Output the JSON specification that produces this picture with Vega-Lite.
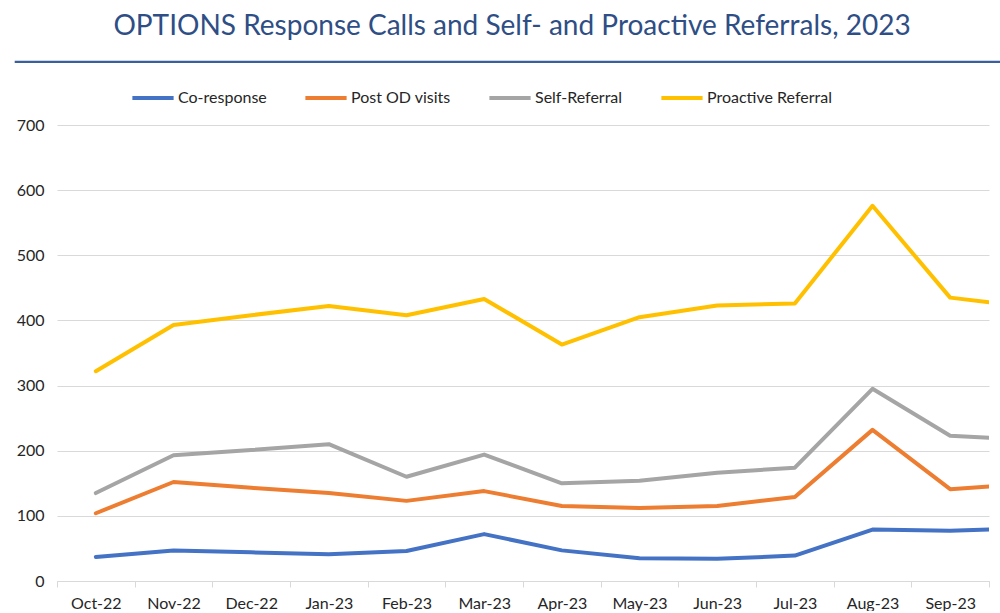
{
  "$schema": "https://vega.github.io/schema/vega-lite/v6.json",
  "autosize": {"type": "pad"},
  "padding": {"left": 14, "top": 11, "right": 0, "bottom": 0},
  "background": "white",
  "config": {
    "view": {"stroke": null},
    "font": "Lato",
    "axis": {"labelFont": "Lato", "labelFontSize": 16, "labelColor": "#262626"},
    "legend": {"labelFont": "Lato", "labelFontSize": 16, "labelColor": "#262626"}
  },
  "vconcat": [
    {
      "width": 986,
      "height": 1,
      "view": {"stroke": "#3B5E9C", "strokeWidth": 1.2, "fill": null},
      "title": {
        "text": "OPTIONS Response Calls and Self- and Proactive Referrals, 2023",
        "font": "Lato",
        "fontSize": 28,
        "fontWeight": "normal",
        "color": "#2E4E85",
        "anchor": "middle",
        "dx": 4,
        "offset": 15
      },
      "data": {"values": [{"t": ""}]},
      "mark": {"type": "text"},
      "encoding": {"text": {"field": "t"}}
    },
    {
      "spacing": 0,
      "hconcat": [
        {
          "width": 1,
          "height": 1,
          "data": {"values": [{"t": ""}]},
          "mark": {"type": "text"},
          "encoding": {"text": {"field": "t"}}
        },
        {
          "width": 932,
          "height": 456,
          "data": {
            "values": [
              {"series": "Co-response", "idx": 0, "value": 37},
              {"series": "Co-response", "idx": 1, "value": 47},
              {"series": "Co-response", "idx": 2, "value": 44},
              {"series": "Co-response", "idx": 3, "value": 41},
              {"series": "Co-response", "idx": 4, "value": 46},
              {"series": "Co-response", "idx": 5, "value": 72},
              {"series": "Co-response", "idx": 6, "value": 47},
              {"series": "Co-response", "idx": 7, "value": 35},
              {"series": "Co-response", "idx": 8, "value": 34},
              {"series": "Co-response", "idx": 9, "value": 39},
              {"series": "Co-response", "idx": 10, "value": 79},
              {"series": "Co-response", "idx": 11, "value": 77},
              {"series": "Co-response", "idx": 12, "value": 81},
              {"series": "Post OD visits", "idx": 0, "value": 104},
              {"series": "Post OD visits", "idx": 1, "value": 152},
              {"series": "Post OD visits", "idx": 2, "value": 143},
              {"series": "Post OD visits", "idx": 3, "value": 135},
              {"series": "Post OD visits", "idx": 4, "value": 123},
              {"series": "Post OD visits", "idx": 5, "value": 138},
              {"series": "Post OD visits", "idx": 6, "value": 115},
              {"series": "Post OD visits", "idx": 7, "value": 112},
              {"series": "Post OD visits", "idx": 8, "value": 115},
              {"series": "Post OD visits", "idx": 9, "value": 129},
              {"series": "Post OD visits", "idx": 10, "value": 232},
              {"series": "Post OD visits", "idx": 11, "value": 141},
              {"series": "Post OD visits", "idx": 12, "value": 149},
              {"series": "Self-Referral", "idx": 0, "value": 135},
              {"series": "Self-Referral", "idx": 1, "value": 193},
              {"series": "Self-Referral", "idx": 2, "value": 201},
              {"series": "Self-Referral", "idx": 3, "value": 210},
              {"series": "Self-Referral", "idx": 4, "value": 160},
              {"series": "Self-Referral", "idx": 5, "value": 194},
              {"series": "Self-Referral", "idx": 6, "value": 150},
              {"series": "Self-Referral", "idx": 7, "value": 154},
              {"series": "Self-Referral", "idx": 8, "value": 166},
              {"series": "Self-Referral", "idx": 9, "value": 174},
              {"series": "Self-Referral", "idx": 10, "value": 295},
              {"series": "Self-Referral", "idx": 11, "value": 223},
              {"series": "Self-Referral", "idx": 12, "value": 217},
              {"series": "Proactive Referral", "idx": 0, "value": 322},
              {"series": "Proactive Referral", "idx": 1, "value": 393},
              {"series": "Proactive Referral", "idx": 2, "value": 408},
              {"series": "Proactive Referral", "idx": 3, "value": 422},
              {"series": "Proactive Referral", "idx": 4, "value": 408},
              {"series": "Proactive Referral", "idx": 5, "value": 433},
              {"series": "Proactive Referral", "idx": 6, "value": 363},
              {"series": "Proactive Referral", "idx": 7, "value": 405},
              {"series": "Proactive Referral", "idx": 8, "value": 423},
              {"series": "Proactive Referral", "idx": 9, "value": 426},
              {"series": "Proactive Referral", "idx": 10, "value": 576},
              {"series": "Proactive Referral", "idx": 11, "value": 435},
              {"series": "Proactive Referral", "idx": 12, "value": 421}
            ]
          },
          "layer": [
            {
              "mark": {"type": "line", "strokeWidth": 4, "strokeCap": "round", "strokeJoin": "round", "clip": true},
              "encoding": {
                "x": {
                  "field": "idx",
                  "type": "quantitative",
                  "scale": {"domain": [-0.5, 11.5], "nice": false, "zero": false},
                  "axis": {
                    "title": null,
                    "orient": "bottom",
                    "values": [0, 1, 2, 3, 4, 5, 6, 7, 8, 9, 10, 11],
                    "labelExpr": "['Oct-22','Nov-22','Dec-22','Jan-23','Feb-23','Mar-23','Apr-23','May-23','Jun-23','Jul-23','Aug-23','Sep-23'][datum.value]",
                    "ticks": false,
                    "grid": false,
                    "domain": true,
                    "domainColor": "#d9d9d9",
                    "domainWidth": 1,
                    "labelPadding": 14,
                    "labelFlush": false,
                    "labelOverlap": false
                  }
                },
                "y": {
                  "field": "value",
                  "type": "quantitative",
                  "scale": {"domain": [0, 700], "nice": false},
                  "axis": {
                    "title": null,
                    "values": [0, 100, 200, 300, 400, 500, 600, 700],
                    "ticks": false,
                    "domain": false,
                    "grid": true,
                    "gridColor": "#d9d9d9",
                    "gridWidth": 1,
                    "labelPadding": 13
                  }
                },
                "color": {
                  "field": "series",
                  "type": "nominal",
                  "sort": ["Co-response", "Post OD visits", "Self-Referral", "Proactive Referral"],
                  "scale": {
                    "domain": ["Co-response", "Post OD visits", "Self-Referral", "Proactive Referral"],
                    "range": ["#4472C4", "#ED7D31", "#A5A5A5", "#FFC000"]
                  },
                  "legend": {
                    "title": null,
                    "orient": "none",
                    "direction": "horizontal",
                    "legendX": 115,
                    "legendY": 14,
                    "symbolType": "stroke",
                    "symbolStrokeWidth": 4,
                    "symbolSize": 1700,
                    "labelOffset": 2,
                    "columnPadding": 30
                  }
                }
              }
            },
            {
              "mark": {"type": "point", "opacity": 0},
              "encoding": {
                "x": {
                  "field": "idx",
                  "type": "quantitative",
                  "axis": {
                    "title": null,
                    "orient": "bottom",
                    "values": [-0.5, 0.5, 1.5, 2.5, 3.5, 4.5, 5.5, 6.5, 7.5, 8.5, 9.5, 10.5, 11.5],
                    "labels": false,
                    "domain": false,
                    "grid": false,
                    "ticks": true,
                    "tickColor": "#d9d9d9",
                    "tickSize": 6
                  }
                },
                "y": {"field": "value", "type": "quantitative"}
              }
            }
          ],
          "resolve": {"axis": {"x": "independent"}}
        }
      ]
    }
  ],
  "spacing": 49,
  "align": "none",
  "bounds": "full"
}
